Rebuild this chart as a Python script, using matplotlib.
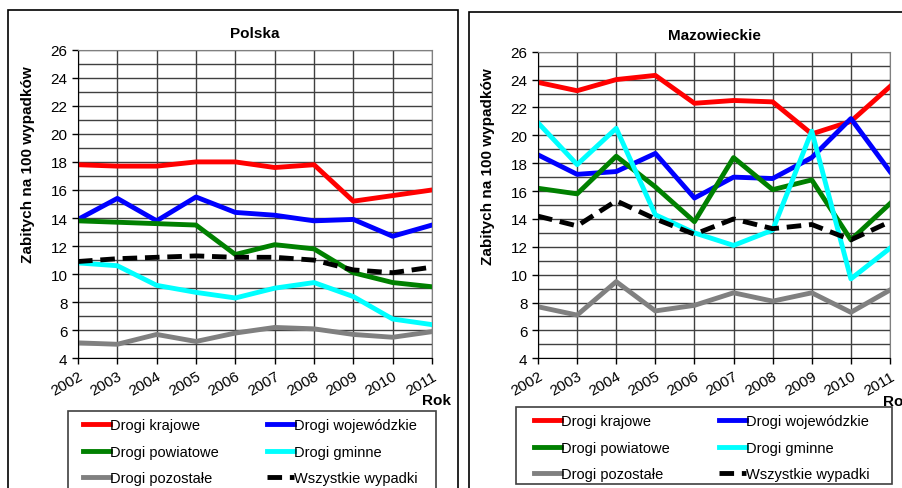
import matplotlib.pyplot as plt
from matplotlib.patches import Rectangle
from matplotlib.ticker import MultipleLocator

plt.rcParams['font.family'] = ['Liberation Sans', 'DejaVu Sans']

years = ['2002', '2003', '2004', '2005', '2006', '2007', '2008', '2009', '2010', '2011']

# Polska
pl_krajowe = [17.8, 17.7, 17.7, 18.0, 18.0, 17.6, 17.8, 15.2, 15.6, 16.0]
pl_wojewodzkie = [13.9, 15.4, 13.8, 15.5, 14.4, 14.2, 13.8, 13.9, 12.7, 13.5]
pl_powiatowe = [13.8, 13.7, 13.6, 13.5, 11.4, 12.1, 11.8, 10.1, 9.4, 9.1]
pl_gminne = [10.8, 10.6, 9.2, 8.7, 8.3, 9.0, 9.4, 8.4, 6.8, 6.4]
pl_pozostale = [5.1, 5.0, 5.7, 5.2, 5.8, 6.2, 6.1, 5.7, 5.5, 5.9]
pl_wszystkie = [10.9, 11.1, 11.2, 11.3, 11.2, 11.2, 11.0, 10.3, 10.1, 10.5]

# Mazowieckie
mz_krajowe = [23.8, 23.2, 24.0, 24.3, 22.3, 22.5, 22.4, 20.1, 21.0, 23.5]
mz_wojewodzkie = [18.6, 17.2, 17.4, 18.7, 15.5, 17.0, 16.9, 18.4, 21.2, 17.4]
mz_powiatowe = [16.2, 15.8, 18.5, 16.3, 13.8, 18.4, 16.1, 16.8, 12.5, 15.1]
mz_gminne = [20.9, 17.9, 20.5, 14.3, 13.0, 12.1, 13.2, 20.3, 9.7, 11.9]
mz_pozostale = [7.7, 7.1, 9.5, 7.4, 7.8, 8.7, 8.1, 8.7, 7.3, 8.9]
mz_wszystkie = [14.2, 13.5, 15.3, 14.0, 12.9, 14.0, 13.3, 13.6, 12.5, 13.8]

labels = ['Drogi krajowe', 'Drogi wojewódzkie', 'Drogi powiatowe',
          'Drogi gminne', 'Drogi pozostałe', 'Wszystkie wypadki']
colors = ['#ff0000', '#0000ff', '#008000', '#00ffff', '#808080', '#000000']

W, H = 903, 489
fig = plt.figure(figsize=(W / 100, H / 100), dpi=100)


def px(x0, y0, x1, y1):
    # pixel box (top-left origin) -> figure fraction
    return [x0 / W, 1 - y1 / H, (x1 - x0) / W, (y1 - y0) / H]


def frame(x0, y0, x1, y1, color, lw):
    fig.patches.append(Rectangle((x0 / W, 1 - y1 / H), (x1 - x0) / W, (y1 - y0) / H,
                                 transform=fig.transFigure, fill=False,
                                 edgecolor=color, linewidth=lw))


def panel(box, title, series, leg_frame, leg_cols, border, rok):
    frame(border[0], border[1], border[2], 520, 'black', 1.2)
    frame(leg_frame[0], leg_frame[1], leg_frame[2], leg_frame[3], '#404040', 1.2)
    ax = fig.add_axes(px(*box))
    x = range(len(years))
    lines = []
    for vals, c, lab in zip(series, colors, labels):
        if lab == 'Wszystkie wypadki':
            l, = ax.plot(x, vals, color=c, lw=3.5, ls=(0, (3, 1.6)), label=lab)
        else:
            l, = ax.plot(x, vals, color=c, lw=3.5, label=lab)
        lines.append(l)
    ax.set_xlim(0, len(years) - 1)
    ax.set_ylim(4, 26)
    ax.yaxis.set_major_locator(MultipleLocator(2))
    ax.yaxis.set_minor_locator(MultipleLocator(1))
    ax.set_xticks(list(x))
    ax.set_xticklabels(years, rotation=30, ha='right', rotation_mode='anchor')
    ax.tick_params(axis='both', labelsize=11, length=4, width=1, color='black')
    ax.tick_params(axis='y', which='minor', length=0)
    ax.grid(True, which='both', color='#404040', linewidth=1)
    ax.set_axisbelow(True)
    for s in ['top', 'right']:
        ax.spines[s].set_color('#808080')
    for s in ['left', 'bottom']:
        ax.spines[s].set_color('black')
    ax.set_title(title, fontsize=11, fontweight='bold', pad=9)
    ax.set_ylabel('Zabitych na 100 wypadków', fontsize=11, fontweight='bold')
    ax.yaxis.set_label_coords(-0.121, 0.63)
    fig.text(rok[0] / W, 1 - rok[1] / H, 'Rok', fontsize=11, fontweight='bold',
             ha='left', va='top')
    order = [0, 2, 4, 1, 3, 5]
    pad = 7.3
    x0 = leg_cols[0] - pad
    x1 = leg_cols[1] + pad
    fig.legend([lines[i] for i in order], [labels[i] for i in order],
               ncol=2, loc='upper left', mode='expand', borderaxespad=0,
               bbox_to_anchor=(x0 / W, 0, (x1 - x0) / W, 1 - leg_frame[1] / H),
               bbox_transform=fig.transFigure, fontsize=10.5, frameon=False,
               handlelength=1.85, handletextpad=0.0,
               borderpad=0.5, labelspacing=0.85, columnspacing=1.0)
    return ax


panel((78, 50.7, 432, 359.3), 'Polska',
      [pl_krajowe, pl_wojewodzkie, pl_powiatowe, pl_gminne, pl_pozostale, pl_wszystkie],
      (68, 412, 436, 520), (83, 418), (8, 11, 458), (422, 394))
panel((538, 52.7, 890, 359.3), 'Mazowieckie',
      [mz_krajowe, mz_wojewodzkie, mz_powiatowe, mz_gminne, mz_pozostale, mz_wszystkie],
      (516, 408, 892, 485), (534, 870), (469, 13, 920), (883, 395))

fig.savefig('out.png', dpi=100)
